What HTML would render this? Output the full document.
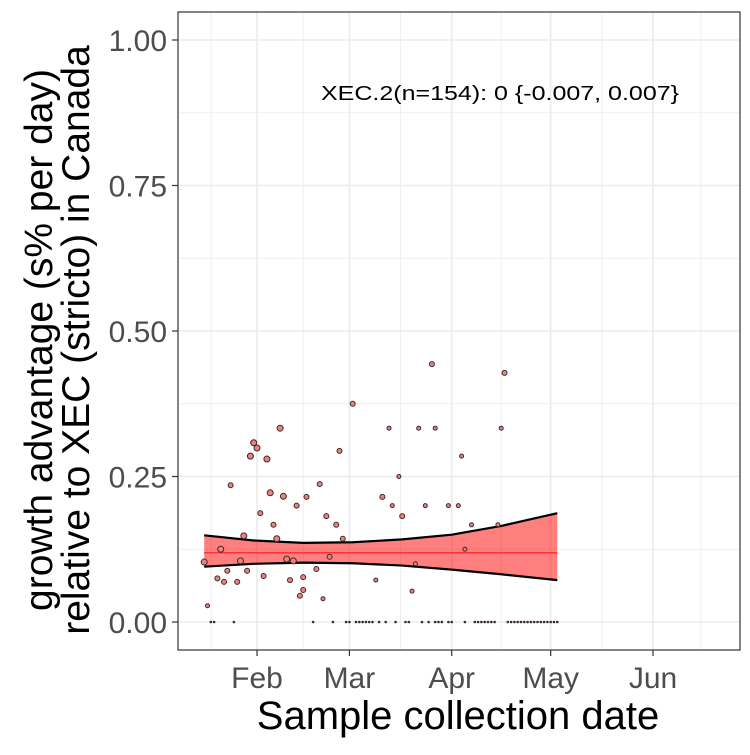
<!DOCTYPE html>
<html><head><meta charset="utf-8"><style>
html,body{margin:0;padding:0;background:#fff;}
svg text{font-family:"Liberation Sans",Arial,sans-serif;}
</style></head><body>
<svg id="chart" width="750" height="750" viewBox="0 0 750 750">
<rect x="0" y="0" width="750" height="750" fill="#fff"/>
<g id="grid"></g>
<g id="ribbon"></g>
<g id="points"></g>
<rect x="178" y="12" width="562" height="638" fill="none" stroke="#333" stroke-width="1.2"/>
<g id="axes"></g>
<text x="500" y="100" font-size="20" text-anchor="middle" fill="#000" textLength="358" lengthAdjust="spacingAndGlyphs">XEC.2(n=154): 0 {-0.007, 0.007}</text>
<text x="458" y="729" font-size="40" text-anchor="middle" fill="#000">Sample collection date</text>
<g transform="translate(0,340) rotate(-90)">
<text x="0" y="52" font-size="39" text-anchor="middle" fill="#000">growth advantage (s% per day)</text>
<text x="0" y="89" font-size="39" text-anchor="middle" fill="#000">relative to XEC (stricto) in Canada</text>
</g>
</svg>
<script>
const yTicks=[0,0.25,0.5,0.75,1.0];
const yTickLabels=["0.00","0.25","0.50","0.75","1.00"];
const xTickDays=[31,59,90,120,151];
const xTickLabels=["Feb","Mar","Apr","May","Jun"];
const pointDays=[15,16,20,19,21,22,23,25,26,27,28,29,30,31,32,33,34,35,36,37,38,39,40,41,42,43,44,45,45,46,49,50,51,52,53,55,56,57,60,67,69,71,72,74,75,78,79,80,82,84,85,89,92,93,94,96,104,105,106];
const pointValues=[0.103,0.028,0.125,0.075,0.069,0.088,0.235,0.069,0.105,0.148,0.088,0.285,0.308,0.299,0.187,0.079,0.28,0.222,0.167,0.143,0.333,0.216,0.108,0.072,0.105,0.2,0.045,0.077,0.055,0.215,0.091,0.237,0.04,0.182,0.112,0.167,0.294,0.143,0.375,0.072,0.215,0.333,0.2,0.25,0.182,0.053,0.1,0.333,0.2,0.443,0.333,0.2,0.2,0.285,0.125,0.167,0.167,0.333,0.428];
const pointSizes=[3,2,3,2.5,2.5,2.5,2.5,2.5,3,3,2.5,3,3,3,2.5,2.5,3,3,2.5,3,3,3,3,2.5,3,2.5,2.5,2.5,2.5,2.5,2.5,2.5,2,2.5,2.5,2.5,2.5,2.5,2.5,2,2.5,2,2,2,2.5,2,2,2,2,2.5,2,2,2,2,2,2,2,2,2.5];
const zeroDays=[17,18,24,48,54,58,59,61,62,63,64,65,66,68,70,73,76,77,81,83,85,86,87,89,90,94,97,98,99,100,101,102,103,107,108,109,110,111,112,113,114,115,116,117,118,119,120,121,122];
const ribbonDays=[15,30,45,60,75,90,105,122];
const ribbonUpper=[0.149,0.140,0.136,0.137,0.142,0.150,0.165,0.187];
const ribbonLower=[0.095,0.100,0.102,0.101,0.097,0.090,0.082,0.072];
const fitValue=0.119;

const NS="http://www.w3.org/2000/svg";
function xs(d){return 257+(d-31)*3.3;}
function ys(v){return 622-v*582;}
function mk(tag,attrs,parent){const e=document.createElementNS(NS,tag);for(const k in attrs)e.setAttribute(k,attrs[k]);parent.appendChild(e);return e;}
const grid=document.getElementById('grid');
for(let i=0;i<yTicks.length-1;i++){const v=(yTicks[i]+yTicks[i+1])/2;
 const l=mk('line',{x1:178,x2:740,y1:ys(v),y2:ys(v),stroke:'#ebebeb','stroke-width':0.8},grid);
 
 }
const xMinor=[xs(31)-46,(xs(31)+xs(59))/2,(xs(59)+xs(90))/2,(xs(90)+xs(120))/2,(xs(120)+xs(151))/2,xs(151)+48];
xMinor.forEach(x=>{const l=mk('line',{x1:x,x2:x,y1:12,y2:650,stroke:'#ebebeb','stroke-width':0.8},grid);
 
 });
yTicks.forEach(v=>{const l=mk('line',{x1:178,x2:740,y1:ys(v),y2:ys(v),stroke:'#ebebeb','stroke-width':1.6},grid);
 
 });
xTickDays.forEach(d=>{const l=mk('line',{x1:xs(d),x2:xs(d),y1:12,y2:650,stroke:'#ebebeb','stroke-width':1.6},grid);
 
 });
const rib=document.getElementById('ribbon');
let up=ribbonDays.map((d,i)=>xs(d)+','+ys(ribbonUpper[i]));
let lo=ribbonDays.map((d,i)=>xs(d)+','+ys(ribbonLower[i])).reverse();
const poly=mk('polygon',{points:up.concat(lo).join(' '),fill:'#ff0000','fill-opacity':0.5,stroke:'none'},rib);


const ul=mk('polyline',{points:up.join(' '),fill:'none',stroke:'#000','stroke-width':2.2},rib);


const ll=mk('polyline',{points:lo.join(' '),fill:'none',stroke:'#000','stroke-width':2.2},rib);


const fl=mk('line',{x1:xs(ribbonDays[0]),x2:xs(ribbonDays[ribbonDays.length-1]),y1:ys(fitValue),y2:ys(fitValue),stroke:'#ff3333','stroke-width':1.6},rib);


const pts=document.getElementById('points');
pointDays.forEach((d,i)=>{const c=mk('circle',{cx:xs(d),cy:ys(pointValues[i]),r:pointSizes[i]||2.5,fill:'#f08080',stroke:'#3a2a2a','stroke-width':1},pts);
 
 });
zeroDays.forEach(d=>{const c=mk('circle',{cx:xs(d),cy:ys(0),r:1.3,fill:'#3a2a2a'},pts);
 
 });
const ax=document.getElementById('axes');
yTicks.forEach((v,i)=>{
 const t=mk('line',{x1:172,x2:178,y1:ys(v),y2:ys(v),stroke:'#333','stroke-width':1.2},ax);
 
 
 const tx=mk('text',{x:167,y:ys(v)+11,'font-size':30,'text-anchor':'end',fill:'#4d4d4d'},ax);
 tx.textContent=yTickLabels[i];
 
 });
xTickDays.forEach((d,i)=>{
 const t=mk('line',{x1:xs(d),x2:xs(d),y1:650,y2:656,stroke:'#333','stroke-width':1.2},ax);
 
 
 const tx=mk('text',{x:xs(d),y:688,'font-size':30,'text-anchor':'middle',fill:'#4d4d4d'},ax);
 tx.textContent=xTickLabels[i];
 
 });
</script>
</body></html>
